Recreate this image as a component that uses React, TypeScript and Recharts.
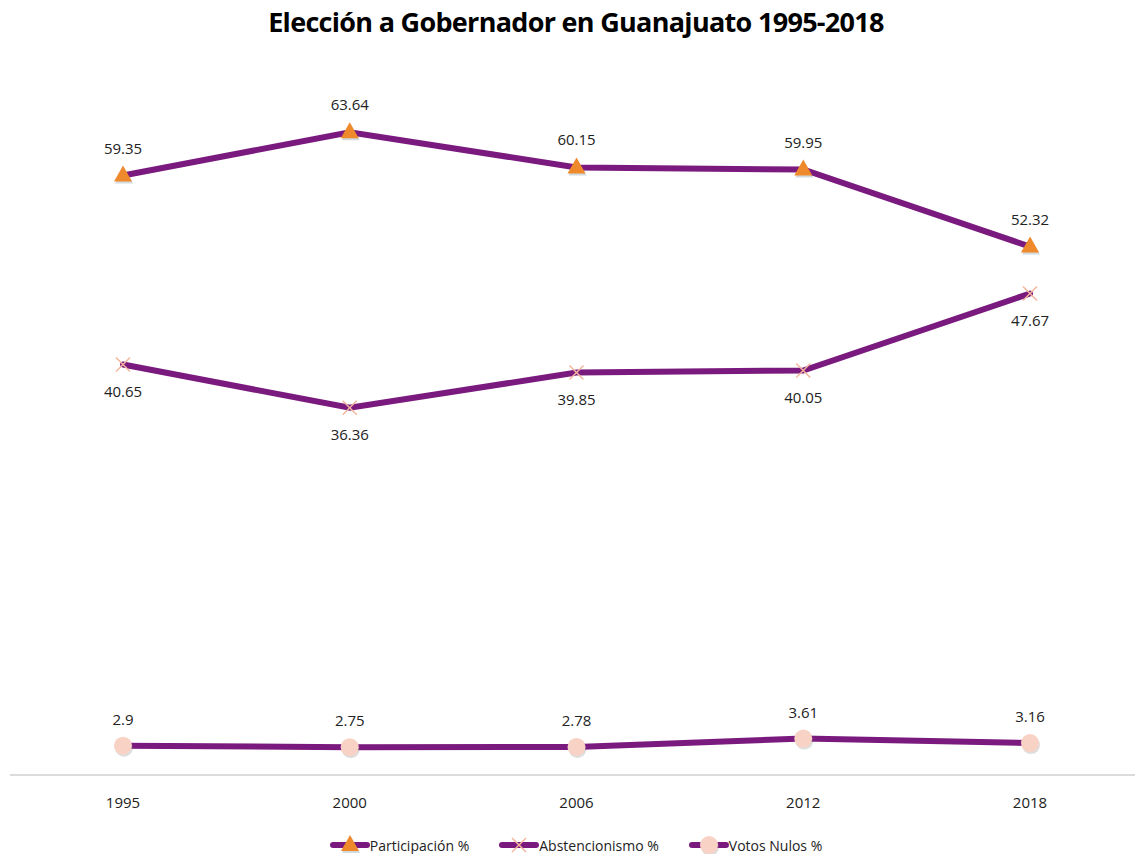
import { Legend, LabelList, Line, LineChart, XAxis, YAxis } from "recharts";

const years = ["1995", "2000", "2006", "2012", "2018"];
const participacion = [59.35, 63.64, 60.15, 59.95, 52.32];
const abstencionismo = [40.65, 36.36, 39.85, 40.05, 47.67];
const votosNulos = [2.9, 2.75, 2.78, 3.61, 3.16];

const data = years.map((y, i) => ({
  year: y,
  participacion: participacion[i],
  abstencionismo: abstencionismo[i],
  nulos: votosNulos[i],
}));

const PURPLE = "#7a1a7e";
const FONT = "'Open Sans', sans-serif";

function Triangle({ cx, cy }: any) {
  if (cx == null || cy == null) return null;
  const d = `M${cx},${cy - 10} L${cx + 9},${cy + 6} L${cx - 9},${cy + 6} Z`;
  return (
    <g>
      <path d={d} fill="#4a6a7a" opacity={0.25} transform="translate(1,2)" />
      <path d={d} fill="#ef8a2c" />
    </g>
  );
}

function Cross({ cx, cy }: any) {
  if (cx == null || cy == null) return null;
  const s = 7;
  return (
    <g stroke="#f3b59c" strokeWidth={1.5}>
      <line x1={cx - s} y1={cy - s} x2={cx + s} y2={cy + s} />
      <line x1={cx - s} y1={cy + s} x2={cx + s} y2={cy - s} />
    </g>
  );
}

function Circle({ cx, cy }: any) {
  if (cx == null || cy == null) return null;
  return (
    <g>
      <circle cx={cx + 1} cy={cy + 2} r={9} fill="#7a7a7a" opacity={0.25} />
      <circle cx={cx} cy={cy} r={9} fill="#f8d2c4" />
    </g>
  );
}

const legendItems = [
  { label: "Participación %", Marker: Triangle },
  { label: "Abstencionismo %", Marker: Cross },
  { label: "Votos Nulos %", Marker: Circle },
];

function LegendContent() {
  return (
    <div style={{ display: "flex", justifyContent: "center", gap: 30, fontFamily: FONT, fontSize: 14, color: "#222" }}>
      {legendItems.map(({ label, Marker }) => (
        <div key={label} style={{ display: "flex", alignItems: "center" }}>
          <svg width={40} height={20}>
            <line x1={3} y1={10} x2={37} y2={10} stroke={PURPLE} strokeWidth={6} strokeLinecap="round" />
            <Marker cx={20} cy={10} />
          </svg>
          <span>{label}</span>
        </div>
      ))}
    </div>
  );
}

const labelStyle = { fontFamily: FONT, fontSize: 15, fill: "#222" };

export default function App() {
  return (
    <div style={{ position: "absolute", left: 0, top: 0, width: 1135, height: 854, overflow: "hidden", background: "#fff" }}>
      <div
        style={{
          position: "absolute",
          top: 3,
          left: 0,
          width: 1152,
          textAlign: "center",
          fontFamily: FONT,
          fontWeight: 700,
          fontSize: 27,
          letterSpacing: -0.7,
          color: "#000",
        }}
      >
        Elección a Gobernador en Guanajuato 1995-2018
      </div>
      <LineChart width={1143} height={854} data={data} margin={{ top: 68, right: 0, left: 10, bottom: 49 }}>
        <XAxis
          dataKey="year"
          height={30}
          padding={{ left: 113, right: 113 }}
          tickLine={false}
          tickMargin={16}
          axisLine={{ stroke: "#cfcfcf", strokeWidth: 1.5 }}
          tick={{ fontFamily: FONT, fontSize: 15, fill: "#222" }}
        />
        <YAxis hide domain={[0, 70]} />
        <Legend
          verticalAlign="middle"
          align="center"
          content={<LegendContent />}
          wrapperStyle={{ position: "absolute", top: 835, left: 0, width: 1152 }}
        />
        <Line
          dataKey="participacion"
          name="Participación %"
          stroke={PURPLE}
          strokeWidth={6}
          strokeLinecap="round"
          dot={<Triangle />}
          activeDot={false}
          isAnimationActive={false}
        >
          <LabelList dataKey="participacion" position="top" offset={22} style={labelStyle} />
        </Line>
        <Line
          dataKey="abstencionismo"
          name="Abstencionismo %"
          stroke={PURPLE}
          strokeWidth={6}
          strokeLinecap="round"
          dot={<Cross />}
          activeDot={false}
          isAnimationActive={false}
        >
          <LabelList dataKey="abstencionismo" position="bottom" offset={22} style={labelStyle} />
        </Line>
        <Line
          dataKey="nulos"
          name="Votos Nulos %"
          stroke={PURPLE}
          strokeWidth={6}
          strokeLinecap="round"
          dot={<Circle />}
          activeDot={false}
          isAnimationActive={false}
        >
          <LabelList dataKey="nulos" position="top" offset={21} style={labelStyle} />
        </Line>
      </LineChart>
    </div>
  );
}
